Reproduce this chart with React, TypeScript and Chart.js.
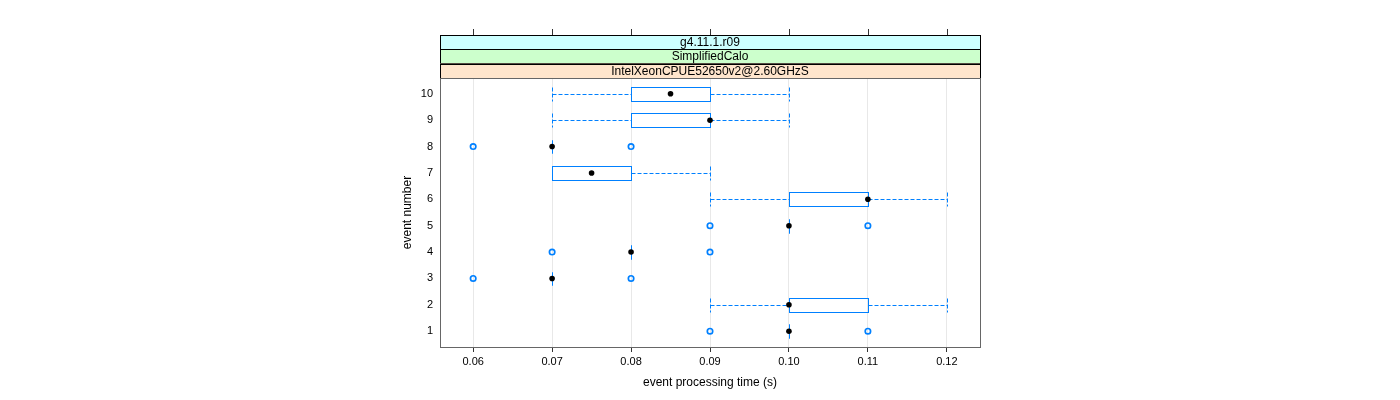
import { useEffect, useRef } from "react";
import { Chart, registerables } from "chart.js";

Chart.register(...registerables);

const events = [1, 2, 3, 4, 5, 6, 7, 8, 9, 10];
const whiskerLow = [0.1, 0.09, 0.07, 0.08, 0.1, 0.09, 0.07, 0.07, 0.07, 0.07];
const boxLow = [0.1, 0.1, 0.07, 0.08, 0.1, 0.1, 0.07, 0.07, 0.08, 0.08];
const medians = [0.1, 0.1, 0.07, 0.08, 0.1, 0.11, 0.075, 0.07, 0.09, 0.085];
const boxHigh = [0.1, 0.11, 0.07, 0.08, 0.1, 0.11, 0.08, 0.07, 0.09, 0.09];
const whiskerHigh = [0.1, 0.12, 0.07, 0.08, 0.1, 0.12, 0.09, 0.07, 0.1, 0.1];
const outlierEvents = [1, 1, 3, 3, 4, 4, 5, 5, 8, 8];
const outlierTimes = [0.09, 0.11, 0.06, 0.08, 0.07, 0.09, 0.09, 0.11, 0.06, 0.08];
const xTicks = [0.06, 0.07, 0.08, 0.09, 0.1, 0.11, 0.12];
const yTicks = [1, 2, 3, 4, 5, 6, 7, 8, 9, 10];
const stripLabels = ["g4.11.1.r09", "SimplifiedCalo", "IntelXeonCPUE52650v2@2.60GHzS"];
const stripColors = ["#ccffff", "#ccffcc", "#ffe5cc"];

const BOX_HALF = 0.26;
const STRIP_H = 14.33;
const FONT = "'Liberation Sans', Arial, Helvetica, sans-serif";

const boxPlugin = {
  id: "bwBoxes",
  beforeDatasetsDraw(chart: any) {
    const { ctx } = chart;
    const x = chart.scales.x;
    const y = chart.scales.y;
    const px = (v: number) => Math.round(x.getPixelForValue(v)) + 0.5;
    const py = (v: number) => Math.round(y.getPixelForValue(v)) + 0.5;
    ctx.save();
    ctx.lineWidth = 1;
    const line = (x1: number, y1: number, x2: number, y2: number) => {
      ctx.beginPath();
      ctx.moveTo(x1, y1);
      ctx.lineTo(x2, y2);
      ctx.stroke();
    };
    events.forEach((ev, i) => {
      const yc = py(ev);
      const yt = py(ev + BOX_HALF);
      const yb = py(ev - BOX_HALF);
      const xwl = px(whiskerLow[i]);
      const xq1 = px(boxLow[i]);
      const xq3 = px(boxHigh[i]);
      const xwh = px(whiskerHigh[i]);
      ctx.strokeStyle = "#0080ff";
      ctx.setLineDash([4, 2]);
      if (xq1 > xwl) {
        line(xwl, yc, xq1, yc);
        line(xwl, yt, xwl, yb);
      }
      if (xwh > xq3) {
        line(xq3, yc, xwh, yc);
        line(xwh, yt, xwh, yb);
      }
      ctx.setLineDash([]);
      ctx.strokeRect(xq1, yt, xq3 - xq1, yb - yt);
    });
    ctx.restore();
  },
};

const framePlugin = {
  id: "latticeFrame",
  afterDraw(chart: any) {
    const { ctx, chartArea } = chart;
    const x = chart.scales.x;
    const { left, right, top, bottom } = chartArea;
    ctx.save();
    const n = stripLabels.length;
    const stripTop = top - n * STRIP_H;
    for (let k = 0; k < n; k++) {
      const y0 = stripTop + k * STRIP_H;
      ctx.fillStyle = stripColors[k];
      ctx.fillRect(left, y0, right - left, STRIP_H);
      ctx.strokeStyle = "#000";
      ctx.lineWidth = 1;
      ctx.strokeRect(Math.round(left) + 0.5, Math.round(y0) + 0.5, Math.round(right - left), Math.round(STRIP_H));
      ctx.fillStyle = "#000";
      ctx.font = `12px ${FONT}`;
      ctx.textAlign = "center";
      ctx.textBaseline = "middle";
      ctx.fillText(stripLabels[k], (left + right) / 2, y0 + STRIP_H / 2 + 0.5);
    }
    ctx.strokeStyle = "#333";
    xTicks.forEach((v) => {
      const xx = Math.round(x.getPixelForValue(v)) + 0.5;
      ctx.beginPath();
      ctx.moveTo(xx, stripTop - 6);
      ctx.lineTo(xx, stripTop);
      ctx.stroke();
    });
    ctx.strokeStyle = "#666";
    ctx.lineWidth = 1;
    ctx.strokeRect(Math.round(left) + 0.5, Math.round(top) + 0.5, Math.round(right - left), Math.round(bottom - top));
    ctx.restore();
  },
};

export default function App() {
  const ref = useRef<HTMLCanvasElement | null>(null);
  useEffect(() => {
    if (!ref.current) return;
    Chart.defaults.font.family = FONT;
    const chart = new Chart(ref.current, {
      type: "scatter",
      data: {
        datasets: [
          {
            label: "median",
            data: events.map((e, i) => ({ x: medians[i], y: e })),
            pointRadius: 2.8,
            pointHoverRadius: 2.8,
            backgroundColor: "#000",
            borderColor: "#000",
            borderWidth: 0,
            order: 1,
          },
          {
            label: "outliers",
            data: outlierTimes.map((t, i) => ({ x: t, y: outlierEvents[i] })),
            pointRadius: 2.7,
            pointHoverRadius: 2.7,
            backgroundColor: "rgba(0,0,0,0)",
            borderColor: "#0080ff",
            borderWidth: 1.7,
            order: 2,
          },
        ],
      },
      options: {
        animation: false,
        responsive: false,
        maintainAspectRatio: false,
        layout: { padding: { left: 400, right: 420, top: 78, bottom: 0 } },
        plugins: {
          legend: { display: false },
          tooltip: { enabled: false },
          title: { display: false },
        },
        scales: {
          x: {
            type: "linear",
            min: 0.0558,
            max: 0.1242,
            afterBuildTicks: (s: any) => {
              s.ticks = xTicks.map((v) => ({ value: v }));
            },
            afterFit: (s: any) => {
              s.height = 53;
            },
            ticks: {
              callback: (v: any) => Number(v).toFixed(2),
              font: { size: 11 },
              color: "#000",
              padding: 3,
              maxRotation: 0,
              autoSkip: false,
            },
            grid: {
              color: "#e8e8e8",
              tickColor: "#333",
              tickLength: 5,
              drawOnChartArea: true,
            },
            border: { display: false },
            title: {
              display: true,
              text: "event processing time (s)",
              font: { size: 12 },
              color: "#000",
              padding: { top: 0, bottom: 10 },
            },
          },
          y: {
            type: "linear",
            min: 0.4,
            max: 10.6,
            afterBuildTicks: (s: any) => {
              s.ticks = yTicks.map((v) => ({ value: v }));
            },
            afterFit: (s: any) => {
              s.width = 40;
            },
            ticks: {
              callback: (v: any) => String(v),
              font: { size: 11 },
              color: "#000",
              padding: 7,
              autoSkip: false,
            },
            grid: { display: false, drawTicks: false },
            border: { display: false },
            title: {
              display: true,
              text: "event number",
              font: { size: 12 },
              color: "#000",
              padding: 0,
            },
          },
        },
      },
      plugins: [boxPlugin, framePlugin],
    } as any);
    return () => chart.destroy();
  }, []);
  return (
    <div style={{ position: "fixed", left: 0, top: 0, width: 1400, height: 400, background: "#fff" }}>
      <canvas ref={ref} width={1400} height={400} style={{ width: 1400, height: 400 }} />
    </div>
  );
}
